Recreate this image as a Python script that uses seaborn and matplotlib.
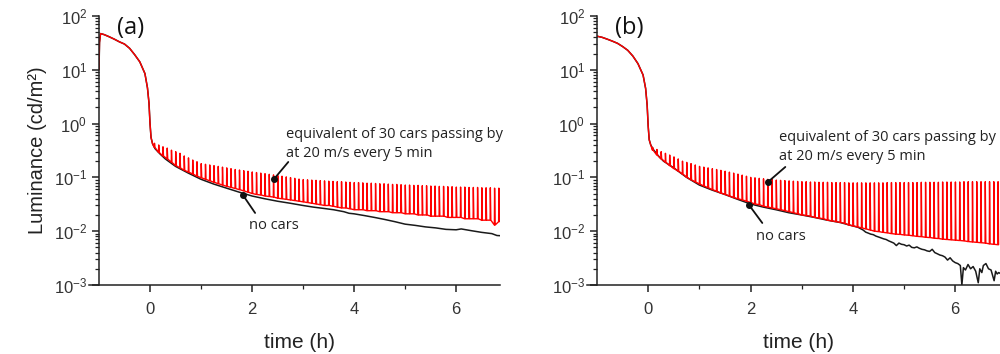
import numpy as np
import pandas as pd
import matplotlib
matplotlib.use("Agg")
import matplotlib.pyplot as plt
import seaborn as sns

# ---------------- data ----------------
# "no cars" curves, time in h, luminance in cd/m^2
black_a_t = [-1.0, -0.99, -0.97, -0.9, -0.8, -0.7, -0.6, -0.5, -0.4, -0.3, -0.2, -0.1, -0.05, -0.02,
             0.0, 0.02, 0.05, 0.1, 0.2, 0.3, 0.5, 0.75, 1.0, 1.25, 1.5, 1.75, 2.0, 2.25, 2.5, 2.75,
             3.0, 3.2, 3.4, 3.6, 3.8, 3.9, 4.0, 4.2, 4.4, 4.6, 4.8, 5.0, 5.2, 5.4, 5.6, 5.8, 6.0,
             6.1, 6.3, 6.5, 6.7, 6.8, 6.9]
black_a_v = [10, 32, 47, 45, 41, 37, 33, 30, 25, 19, 14, 8.5, 4.6, 2.4,
             1.0, 0.55, 0.42, 0.34, 0.27, 0.22, 0.16, 0.12, 0.092, 0.075, 0.063, 0.053, 0.045, 0.040, 0.036, 0.033,
             0.030, 0.028, 0.0265, 0.025, 0.023, 0.0215, 0.021, 0.0195, 0.018, 0.0165, 0.015, 0.0135, 0.0128, 0.012, 0.0115, 0.0108, 0.0106,
             0.0110, 0.0102, 0.0095, 0.0090, 0.0083, 0.0082]

black_b_t = [-1.0, -0.9, -0.8, -0.7, -0.6, -0.5, -0.4, -0.3, -0.2, -0.1, -0.05, -0.02,
             0.0, 0.02, 0.05, 0.1, 0.2, 0.3, 0.5, 0.75, 1.0, 1.25, 1.5, 1.75, 2.0, 2.25, 2.5, 2.75,
             3.0, 3.25, 3.5, 3.75, 4.0, 4.1, 4.2, 4.25, 4.3, 4.35, 4.4, 4.45, 4.5, 4.55, 4.6, 4.65,
             4.7, 4.75, 4.8, 4.85, 4.9, 4.95, 5.0, 5.05, 5.1, 5.15, 5.2, 5.25, 5.3, 5.35, 5.4, 5.45,
             5.5, 5.55, 5.6, 5.65, 5.7, 5.75, 5.8, 5.85, 5.9, 5.95, 6.0, 6.05, 6.1, 6.13, 6.16,
             6.2, 6.25, 6.3, 6.35, 6.4, 6.45, 6.48, 6.52, 6.55, 6.6, 6.65, 6.7, 6.76, 6.79, 6.82, 6.85, 6.9]
black_b_v = [42, 40, 37, 34, 31, 27, 23, 18, 13, 8, 4.5, 2.2,
             0.9, 0.5, 0.4, 0.33, 0.25, 0.2, 0.15, 0.1, 0.072, 0.058, 0.048, 0.039, 0.032, 0.028, 0.025, 0.022,
             0.020, 0.018, 0.016, 0.0145, 0.0125, 0.0118, 0.0105, 0.0096, 0.0092, 0.0088, 0.0086, 0.0081, 0.0078, 0.0075, 0.0072, 0.0070,
             0.0066, 0.0063, 0.0060, 0.0054, 0.0060, 0.0057, 0.0056, 0.0053, 0.0055, 0.0050, 0.0049, 0.0051, 0.0048, 0.0046, 0.0045, 0.0043,
             0.0042, 0.0046, 0.0040, 0.0038, 0.0036, 0.0035, 0.0033, 0.0029, 0.0032, 0.0028, 0.0026, 0.0025, 0.0023, 0.0010, 0.0021,
             0.0019, 0.0024, 0.0020, 0.0022, 0.0018, 0.0011, 0.0020, 0.0017, 0.0023, 0.0025, 0.0020, 0.0019, 0.0012, 0.0018, 0.0016, 0.0017, 0.0016]

# cars passing: one light pulse every 5 min
spike_minutes = list(range(5, 415, 5))

peak_a = [0.43, 0.40, 0.37, 0.35, 0.32, 0.30, 0.28, 0.25, 0.23, 0.21, 0.195, 0.18,
          0.175, 0.17, 0.165, 0.16, 0.155, 0.15, 0.145, 0.14, 0.137, 0.133, 0.13, 0.126,
          0.123, 0.12, 0.117, 0.114, 0.111, 0.108, 0.105, 0.102, 0.099, 0.096, 0.093, 0.091,
          0.090, 0.089, 0.088, 0.087, 0.086, 0.085, 0.084, 0.083, 0.083, 0.082, 0.081, 0.080,
          0.080, 0.079, 0.078, 0.078, 0.077, 0.076, 0.076, 0.075, 0.074, 0.074, 0.073, 0.072,
          0.072, 0.071, 0.071, 0.070, 0.070, 0.069, 0.069, 0.068, 0.068, 0.067, 0.067, 0.066,
          0.066, 0.066, 0.065, 0.065, 0.065, 0.064, 0.064, 0.064, 0.063, 0.063]
trough_a = [0.36, 0.29, 0.25, 0.22, 0.19, 0.165, 0.15, 0.135, 0.125, 0.115, 0.105, 0.098,
            0.092, 0.086, 0.081, 0.076, 0.072, 0.068, 0.065, 0.062, 0.059, 0.056, 0.053, 0.050,
            0.048, 0.047, 0.045, 0.044, 0.043, 0.041, 0.040, 0.039, 0.038, 0.037, 0.036, 0.035,
            0.034, 0.033, 0.032, 0.031, 0.030, 0.030, 0.029, 0.028, 0.027, 0.027, 0.026, 0.025,
            0.025, 0.025, 0.024, 0.024, 0.024, 0.023, 0.023, 0.023, 0.022, 0.022, 0.022, 0.021,
            0.021, 0.021, 0.020, 0.020, 0.020, 0.019, 0.019, 0.019, 0.019, 0.018, 0.018, 0.018,
            0.018, 0.017, 0.017, 0.017, 0.017, 0.016, 0.016, 0.016, 0.013, 0.015]

peak_b = [0.36, 0.33, 0.30, 0.28, 0.26, 0.24, 0.22, 0.20, 0.19, 0.18, 0.17, 0.16,
          0.155, 0.15, 0.145, 0.14, 0.135, 0.13, 0.125, 0.12, 0.115, 0.11, 0.105, 0.100,
          0.098, 0.096, 0.094, 0.092, 0.091, 0.089, 0.088, 0.087, 0.086, 0.085, 0.084, 0.083,
          0.083, 0.082, 0.082, 0.081, 0.081, 0.081, 0.080, 0.080, 0.080, 0.080, 0.079, 0.079,
          0.079, 0.079, 0.079, 0.079, 0.079, 0.079, 0.079, 0.080, 0.080, 0.080, 0.080, 0.080,
          0.080, 0.080, 0.080, 0.081, 0.081, 0.081, 0.081, 0.081, 0.082, 0.082, 0.082, 0.082,
          0.082, 0.083, 0.083, 0.083, 0.083, 0.083, 0.083, 0.083, 0.083, 0.083]
trough_b = [0.32, 0.26, 0.22, 0.19, 0.165, 0.145, 0.13, 0.115, 0.10, 0.09, 0.082, 0.075,
            0.069, 0.064, 0.059, 0.055, 0.051, 0.048, 0.045, 0.042, 0.040, 0.038, 0.036, 0.034,
            0.032, 0.031, 0.029, 0.028, 0.027, 0.026, 0.025, 0.024, 0.023, 0.022, 0.021, 0.020,
            0.0195, 0.019, 0.018, 0.0175, 0.017, 0.016, 0.0155, 0.015, 0.0145, 0.014, 0.013, 0.0125,
            0.012, 0.0115, 0.011, 0.0105, 0.010, 0.0098, 0.0095, 0.0093, 0.009, 0.0088, 0.0087, 0.0085,
            0.0084, 0.0082, 0.008, 0.0079, 0.0077, 0.0076, 0.0074, 0.0073, 0.0071, 0.007, 0.0069, 0.0068,
            0.0067, 0.0066, 0.0064, 0.0063, 0.0062, 0.0061, 0.006, 0.0058, 0.0057, 0.0056]

panel_labels = ["(a)", "(b)"]
cars_text = "equivalent of 30 cars passing by\nat 20 m/s every 5 min"
nocars_text = "no cars"
x_ticks = [0, 2, 4, 6]
x_label = "time (h)"
y_label = "Luminance (cd/m²)"


def red_series(bt, bv, peaks, troughs):
    """Build the pulsed curve: follows the no-car decay until the first car,
    then a short pulse (level -> peak -> back to level) every 5 minutes."""
    t0 = spike_minutes[0] / 60.0
    ts = [t for t in bt if t < t0]
    vs = [v for t, v in zip(bt, bv) if t < t0]
    for m, p, tr in zip(spike_minutes, peaks, troughs):
        t = m / 60.0
        ts += [t, t + 0.004, t + 0.014]
        vs += [tr, p, tr]
    return pd.DataFrame({"t": ts, "L": vs})


# ---------------- style ----------------
sns.set_style("ticks")
plt.rcParams["font.family"] = ["Liberation Sans", "DejaVu Sans"]
plt.rcParams["axes.linewidth"] = 1.1

fig = plt.figure(figsize=(10, 3.54), dpi=100)
axes = [fig.add_axes([0.099, 0.195, 0.401, 0.76]),
        fig.add_axes([0.597, 0.195, 0.403, 0.76])]

panels = [
    dict(bt=black_a_t, bv=black_a_v, pk=peak_a, tr=trough_a, xr=6.86,
         txt=(2.67, 0.86), dot1=(2.43, 0.093), st1=(2.71, 0.193),
         nc=(1.94, 0.013), dot2=(1.82, 0.047), st2=(2.06, 0.0218)),
    dict(bt=black_b_t, bv=black_b_v, pk=peak_b, tr=trough_b, xr=6.875,
         txt=(2.56, 0.76), dot1=(2.34, 0.082), st1=(2.68, 0.156),
         nc=(2.11, 0.0081), dot2=(1.97, 0.0307), st2=(2.23, 0.0142)),
]

ann_font = ["Open Sans", "DejaVu Sans"]

for ax, pdict, lab in zip(axes, panels, panel_labels):
    dfb = pd.DataFrame({"t": pdict["bt"], "L": pdict["bv"]})
    dfr = red_series(pdict["bt"], pdict["bv"], pdict["pk"], pdict["tr"])
    sns.lineplot(data=dfb, x="t", y="L", ax=ax, color="#1a1a1a", lw=1.1,
                 estimator=None, sort=False)
    sns.lineplot(data=dfr, x="t", y="L", ax=ax, color="#ff0000", lw=1.0,
                 estimator=None, sort=False)
    ax.set_yscale("log")
    ax.set_ylim(1e-3, 1e2)
    ax.set_xlim(-1, pdict["xr"])
    ax.set_xticks(x_ticks)
    ax.set_xticks([1, 3, 5], minor=True)
    ax.yaxis.set_major_locator(matplotlib.ticker.LogLocator(base=10, numticks=10))
    ax.yaxis.set_minor_locator(matplotlib.ticker.LogLocator(base=10, subs=np.arange(2, 10), numticks=20))
    ax.yaxis.set_minor_formatter(matplotlib.ticker.NullFormatter())
    ax.tick_params(axis="both", which="major", direction="out", length=5, width=1.1,
                   labelsize=12, color="#222222", labelcolor="#333333")
    ax.tick_params(axis="x", which="major", pad=7)
    ax.tick_params(axis="both", which="minor", direction="out", length=3, width=0.9,
                   color="#222222")
    for s in ["top", "right"]:
        ax.spines[s].set_visible(False)
    for s in ["left", "bottom"]:
        ax.spines[s].set_color("#222222")
    ax.spines["bottom"].set_bounds(-1.2, pdict["xr"])
    ax.set_xlabel(x_label, fontsize=15, color="#222222", labelpad=12)
    ax.set_ylabel("")
    ax.text(0.045, 0.955, lab, transform=ax.transAxes, fontsize=17, family=ann_font,
            ha="left", va="center", color="#111111")
    ax.text(pdict["txt"][0], pdict["txt"][1], cars_text, fontsize=10.5, family=ann_font,
            ha="left", va="top", linespacing=1.35, color="#222222")
    ax.text(pdict["nc"][0], pdict["nc"][1], nocars_text, fontsize=10.5, family=ann_font,
            ha="left", va="center", color="#222222")
    for dot, st in [(pdict["dot1"], pdict["st1"]), (pdict["dot2"], pdict["st2"])]:
        ax.annotate("", xy=dot, xytext=st,
                    arrowprops=dict(arrowstyle="-", lw=1.3, color="#111111",
                                    shrinkA=0, shrinkB=0))
        ax.plot([dot[0]], [dot[1]], marker="o", ms=4, color="#111111", zorder=5)

axes[0].set_ylabel(y_label, fontsize=14.5, color="#222222", labelpad=5)

fig.savefig("out.png", dpi=100)
